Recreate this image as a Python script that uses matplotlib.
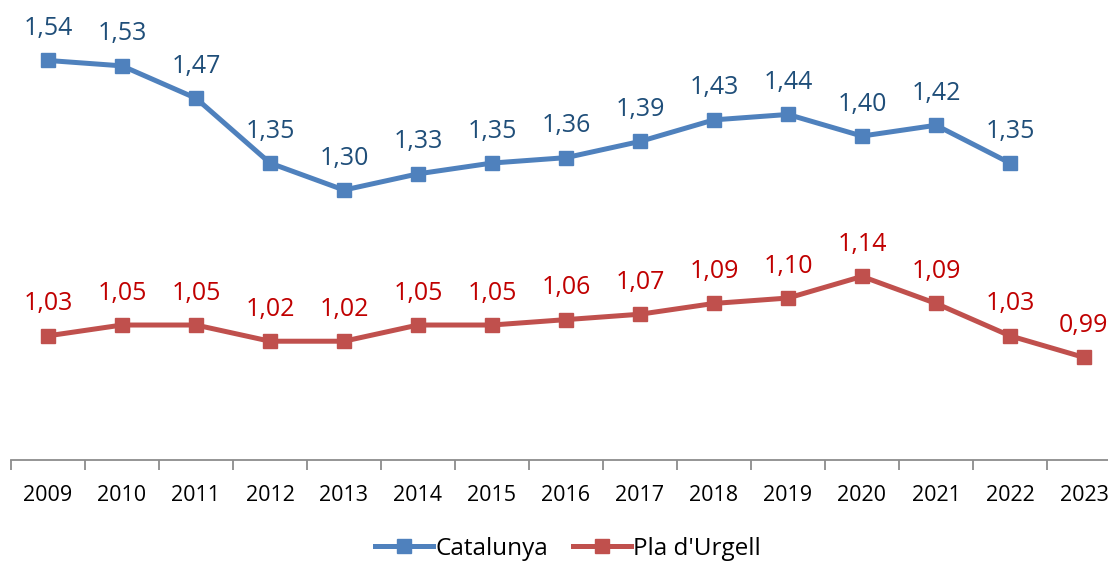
import matplotlib
matplotlib.use("Agg")
import matplotlib.pyplot as plt

years = ["2009", "2010", "2011", "2012", "2013", "2014", "2015", "2016",
         "2017", "2018", "2019", "2020", "2021", "2022", "2023"]
catalunya = [1.54, 1.53, 1.47, 1.35, 1.30, 1.33, 1.35, 1.36, 1.39, 1.43, 1.44, 1.40, 1.42, 1.35]
pla_urgell = [1.03, 1.05, 1.05, 1.02, 1.02, 1.05, 1.05, 1.06, 1.07, 1.09, 1.10, 1.14, 1.09, 1.03, 0.99]

plt.rcParams['font.family'] = ['Open Sans', 'DejaVu Sans']

W, H = 1108, 565
fig = plt.figure(figsize=(W / 100, H / 100), dpi=100)
ax = fig.add_axes([11 / W, 1 - 460 / H, 1110 / W, 460 / H])

blue = "#4F81BD"
red = "#C0504D"
blue_txt = "#1F4E79"
red_txt = "#C00000"

x_c = list(range(len(catalunya)))
x_p = list(range(len(pla_urgell)))
ax.plot(x_c, catalunya, color=blue, lw=3.6, marker="s", ms=10, label="Catalunya", clip_on=False)
ax.plot(x_p, pla_urgell, color=red, lw=3.6, marker="s", ms=10, label="Pla d'Urgell", clip_on=False)

for xi, v in zip(x_c, catalunya):
    ax.annotate(f"{v:.2f}".replace(".", ","), (xi, v), xytext=(0, 23), textcoords="offset points",
                ha="center", va="center", fontsize=18, color=blue_txt, annotation_clip=False)
for xi, v in zip(x_p, pla_urgell):
    ax.annotate(f"{v:.2f}".replace(".", ","), (xi, v), xytext=(0, 23), textcoords="offset points",
                ha="center", va="center", fontsize=18, color=red_txt, annotation_clip=False)

ax.set_xlim(-0.5, len(years) - 0.5)
ax.set_ylim(0.8, 1.652)
ax.set_xticks([i + 0.5 for i in range(-1, len(years))], minor=False)
ax.set_xticklabels([])
ax.set_xticks(range(len(years)), minor=True)
ax.set_xticklabels(years, minor=True, fontsize=15.5)
ax.tick_params(axis="x", which="major", length=7, width=1.3, color="#8C8C8C")
ax.tick_params(axis="x", which="minor", length=0, pad=18)
ax.set_yticks([])
for s in ["top", "right", "left"]:
    ax.spines[s].set_visible(False)
ax.spines["bottom"].set_color("#8C8C8C")
ax.spines["bottom"].set_linewidth(1.3)

fig.legend(loc="center", bbox_to_anchor=(568 / W, 1 - 549 / H), ncol=2, frameon=False,
           fontsize=17.5, handlelength=2.4, columnspacing=1.0, handletextpad=0.1)

fig.savefig("out.png", dpi=100)
